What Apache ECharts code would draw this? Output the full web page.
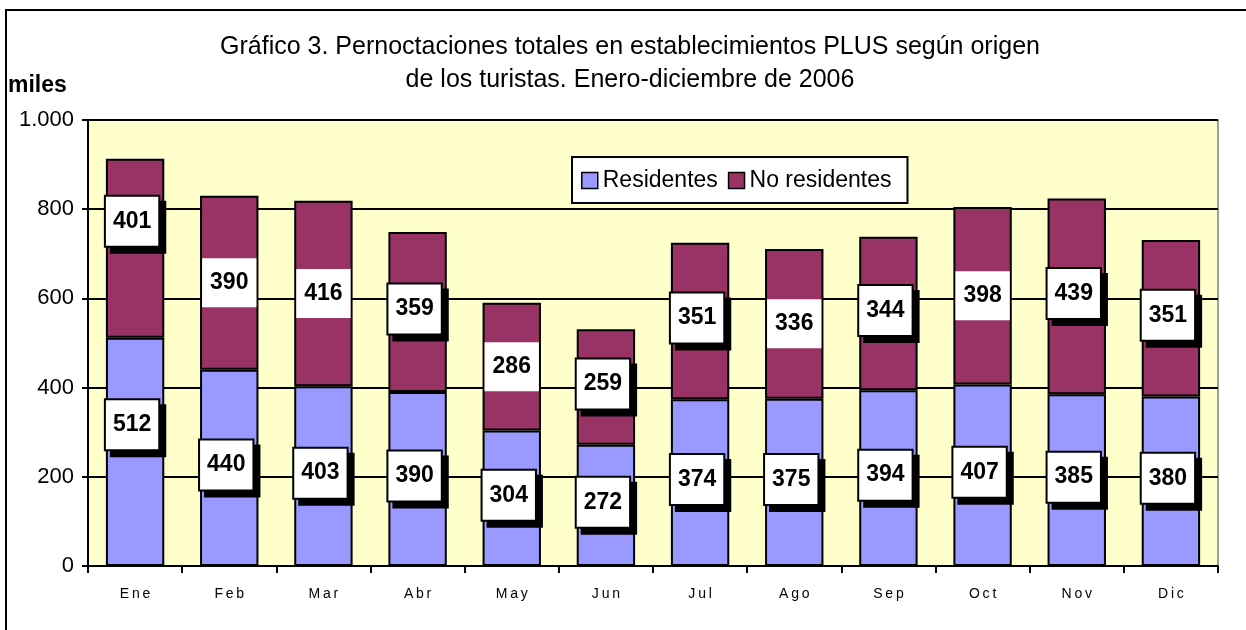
<!DOCTYPE html>
<html>
<head>
<meta charset="utf-8">
<script src="https://cdn.jsdelivr.net/npm/echarts@6/dist/echarts.min.js"></script>
<style>
html,body{margin:0;padding:0;background:#fff;}
#c{width:1246px;height:630px;}
</style>
</head>
<body>
<div id="c"></div>
<script>
const categories = ["Ene","Feb","Mar","Abr","May","Jun","Jul","Ago","Sep","Oct","Nov","Dic"];
const residentes = [512,440,403,390,304,272,374,375,394,407,385,380];
const noResidentes = [401,390,416,359,286,259,351,336,344,398,439,351];
const yTicks = [0,200,400,600,800,1000];

// label styling (not data): which labels are plain boxes, and extra vertical shift
const plainResid = [false,false,false,false,false,false,false,false,false,false,false,false];
const plainNoRes = [false,true,true,false,true,false,false,true,false,true,false,false];
const shiftY = [-24,0,0,0,0,0,0,0,0,0,0,0];

const FONT = '"Liberation Sans", Arial, sans-serif';

const boxLabel = {
  show: true,
  position: 'inside',
  formatter: '{c}',
  color: '#000',
  fontFamily: FONT,
  fontWeight: 'bold',
  fontSize: 23,
  lineHeight: 24,
  backgroundColor: '#fff',
  borderColor: '#000',
  borderWidth: 2,
  padding: [13, 7, 12, 7],
  shadowColor: '#000',
  shadowBlur: 0,
  shadowOffsetX: 6,
  shadowOffsetY: 6,
  offset: [-3, -3]
};

function buildData(vals, plain) {
  return vals.map((v, i) => {
    const lbl = plain[i]
      ? { borderWidth: 0, shadowColor: 'rgba(0,0,0,0)', shadowOffsetX: 0, shadowOffsetY: 0, padding: [13, 8, 12, 8], offset: [0, shiftY[i]] }
      : { offset: [-3, -3 + shiftY[i]] };
    return { value: v, label: lbl };
  });
}

const chart = echarts.init(document.getElementById('c'), null, {renderer: 'canvas'});
chart.setOption({
  animation: false,
  backgroundColor: '#fff',
  textStyle: { fontFamily: FONT },
  title: {
    text: 'Gráfico 3. Pernoctaciones totales en establecimientos PLUS según origen\nde los turistas. Enero-diciembre de 2006',
    left: 625,
    textAlign: 'center',
    top: 26,
    textStyle: { fontFamily: FONT, fontWeight: 'normal', fontSize: 25, lineHeight: 33, color: '#000' }
  },
  graphic: [
    { type: 'rect', shape: { x: 6, y: 10, width: 1400, height: 800 }, style: { fill: 'none', stroke: '#000', lineWidth: 2 }, z: -1 },
    { type: 'text', left: 8, top: 74, style: { text: 'miles', font: 'bold 23px ' + FONT, fill: '#000' } }
  ],
  legend: {
    left: 572,
    top: 157,
    orient: 'horizontal',
    backgroundColor: '#fff',
    borderColor: '#000',
    borderWidth: 2,
    borderRadius: 0,
    padding: [12, 16, 11, 9],
    itemWidth: 16,
    itemHeight: 16,
    itemGap: 10,
    icon: 'rect',
    textStyle: { fontFamily: FONT, fontSize: 23, color: '#000' },
    data: [
      { name: 'Residentes', itemStyle: { borderColor: '#000', borderWidth: 1.5 } },
      { name: 'No residentes', itemStyle: { borderColor: '#000', borderWidth: 1.5 } }
    ]
  },
  grid: {
    left: 88, right: 28, top: 120, bottom: 64,
    show: true,
    backgroundColor: '#FFFFCC',
    borderColor: '#808080',
    borderWidth: 1.5
  },
  xAxis: {
    type: 'category',
    data: categories,
    axisLine: { lineStyle: { color: '#000', width: 2 } },
    axisTick: { show: true, length: 7, lineStyle: { color: '#000', width: 2 } },
    axisLabel: {
      color: '#000', fontSize: 14, fontFamily: FONT, margin: 21,
      formatter: v => v.split('').join('\u2009')
    }
  },
  yAxis: {
    type: 'value',
    min: yTicks[0],
    max: yTicks[yTicks.length - 1],
    interval: yTicks[1] - yTicks[0],
    axisLine: { show: true, lineStyle: { color: '#000', width: 2 } },
    axisTick: { show: true, length: 6, lineStyle: { color: '#000', width: 2 } },
    splitLine: { show: true, lineStyle: { color: '#000', width: 2 } },
    axisLabel: {
      color: '#000', fontSize: 22, fontFamily: FONT, margin: 14,
      formatter: v => v >= 1000 ? String(v).replace(/(\d)(\d{3})$/, '$1.$2') : String(v)
    }
  },
  series: [
    {
      name: 'Residentes',
      type: 'bar',
      stack: 'total',
      barWidth: '62%',
      itemStyle: { color: '#9999FF', borderColor: '#000', borderWidth: 2 },
      label: boxLabel,
      data: buildData(residentes, plainResid),
      z: 2
    },
    {
      name: 'No residentes',
      type: 'bar',
      stack: 'total',
      barWidth: '62%',
      itemStyle: { color: '#993366', borderColor: '#000', borderWidth: 2 },
      label: boxLabel,
      data: buildData(noResidentes, plainNoRes),
      z: 2
    }
  ]
});
</script>
</body>
</html>
